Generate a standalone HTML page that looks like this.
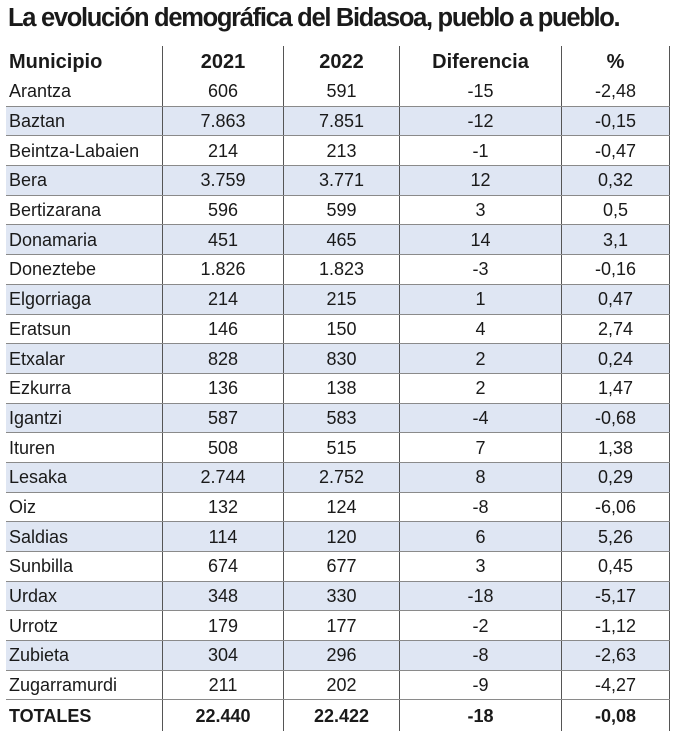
<!DOCTYPE html>
<html><head><meta charset="utf-8"><style>
body{margin:0;width:676px;height:748px;background:#fff;font-family:"Liberation Sans",sans-serif;color:#1a1a1a;position:relative;overflow:hidden}
.t{position:absolute;left:8px;top:4px;font-size:25.5px;font-weight:bold;letter-spacing:-1.3px;white-space:nowrap}
table{position:absolute;left:6px;top:46px;border-collapse:collapse;width:664px}
td{height:28.7px;padding:0;font-size:18px;text-align:center;border-right:1px solid #555;white-space:nowrap;line-height:28px}
td:first-child{text-align:left;padding-left:3px;width:153px}
td:nth-child(2){width:120px}td:nth-child(3){width:115px}td:nth-child(4){width:161px}
tr.h td{font-weight:bold;font-size:20px;height:31px;border-bottom:none}
tr.b td{background:#dfe6f3}
tr td{border-bottom:1px solid #8a8a8a}
tr.tot td{font-weight:bold;border-bottom:none;height:31px}
</style></head><body>
<div class="t">La evolución demográfica del Bidasoa, pueblo a pueblo.</div>
<table>
<tr class="h"><td>Municipio</td><td>2021</td><td>2022</td><td>Diferencia</td><td>%</td></tr>
<tr><td>Arantza</td><td>606</td><td>591</td><td>-15</td><td>-2,48</td></tr>
<tr class="b"><td>Baztan</td><td>7.863</td><td>7.851</td><td>-12</td><td>-0,15</td></tr>
<tr><td>Beintza-Labaien</td><td>214</td><td>213</td><td>-1</td><td>-0,47</td></tr>
<tr class="b"><td>Bera</td><td>3.759</td><td>3.771</td><td>12</td><td>0,32</td></tr>
<tr><td>Bertizarana</td><td>596</td><td>599</td><td>3</td><td>0,5</td></tr>
<tr class="b"><td>Donamaria</td><td>451</td><td>465</td><td>14</td><td>3,1</td></tr>
<tr><td>Doneztebe</td><td>1.826</td><td>1.823</td><td>-3</td><td>-0,16</td></tr>
<tr class="b"><td>Elgorriaga</td><td>214</td><td>215</td><td>1</td><td>0,47</td></tr>
<tr><td>Eratsun</td><td>146</td><td>150</td><td>4</td><td>2,74</td></tr>
<tr class="b"><td>Etxalar</td><td>828</td><td>830</td><td>2</td><td>0,24</td></tr>
<tr><td>Ezkurra</td><td>136</td><td>138</td><td>2</td><td>1,47</td></tr>
<tr class="b"><td>Igantzi</td><td>587</td><td>583</td><td>-4</td><td>-0,68</td></tr>
<tr><td>Ituren</td><td>508</td><td>515</td><td>7</td><td>1,38</td></tr>
<tr class="b"><td>Lesaka</td><td>2.744</td><td>2.752</td><td>8</td><td>0,29</td></tr>
<tr><td>Oiz</td><td>132</td><td>124</td><td>-8</td><td>-6,06</td></tr>
<tr class="b"><td>Saldias</td><td>114</td><td>120</td><td>6</td><td>5,26</td></tr>
<tr><td>Sunbilla</td><td>674</td><td>677</td><td>3</td><td>0,45</td></tr>
<tr class="b"><td>Urdax</td><td>348</td><td>330</td><td>-18</td><td>-5,17</td></tr>
<tr><td>Urrotz</td><td>179</td><td>177</td><td>-2</td><td>-1,12</td></tr>
<tr class="b"><td>Zubieta</td><td>304</td><td>296</td><td>-8</td><td>-2,63</td></tr>
<tr><td>Zugarramurdi</td><td>211</td><td>202</td><td>-9</td><td>-4,27</td></tr>
<tr class="tot"><td>TOTALES</td><td>22.440</td><td>22.422</td><td>-18</td><td>-0,08</td></tr>
</table>
</body></html>
